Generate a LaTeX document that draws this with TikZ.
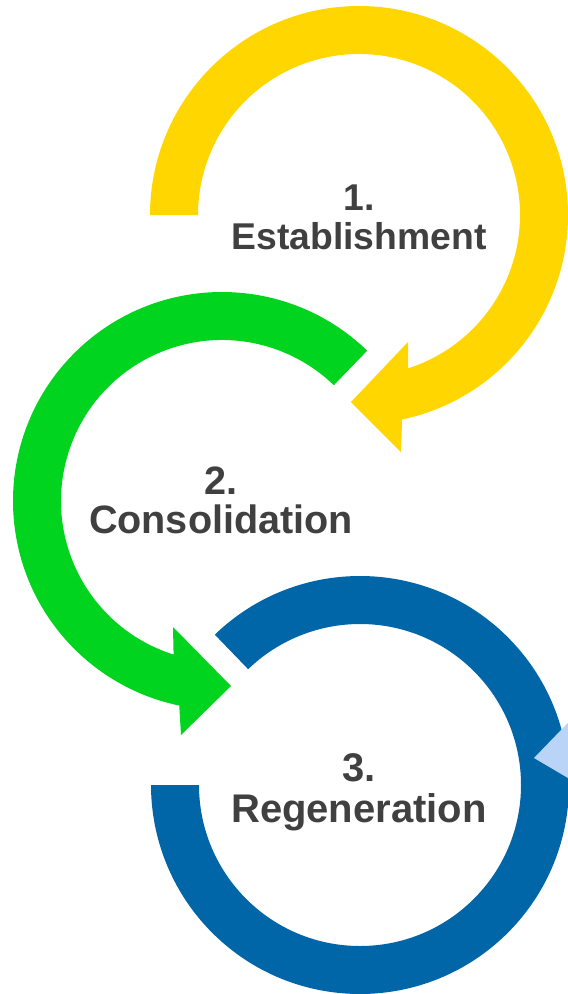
\documentclass[tikz,border=0pt]{standalone}
\usepackage{fontspec}
\setmainfont{Liberation Sans}
\usepackage{tikz}

\definecolor{ringyellow}{RGB}{255,214,0}
\definecolor{ringgreen}{RGB}{0,212,30}
\definecolor{ringblue}{RGB}{0,102,168}
\definecolor{ringlight}{RGB}{186,212,248}
\definecolor{labelgray}{RGB}{64,64,64}

\begin{document}
\begin{tikzpicture}[x=1pt, y=-1pt, stage label/.style={text=labelgray, font=\bfseries, anchor=base, inner sep=0pt}]

        \useasboundingbox (0,0) rectangle (568,994);
        \clip (0,0) rectangle (568,994);

        \coordinate (Y) at (359,215);
        \coordinate (G) at (222,501);
        \coordinate (B) at (360,785);

        % Rings with heads
        \fill[ringyellow] ([shift={(Y)}]180:209) arc[start angle=180, end angle=438.1, radius=209]
            -- (401,452) -- (351,402) -- (408,342)
            -- ([shift={(Y)}]432.2:161) arc[start angle=432.2, end angle=180, radius=161] -- cycle;

        \fill[ringgreen] ([shift={(G)}]-46:209) arc[start angle=-46, end angle=-258.2, radius=209]
            -- (181,735) -- (231,686) -- (173,627)
            -- ([shift={(G)}]-252.5:161) arc[start angle=-252.5, end angle=-46, radius=161] -- cycle;

        \fill[ringblue] ([shift={(B)}]-134:209) arc[start angle=-134, end angle=180, radius=209]
            -- ([shift={(B)}]180:161) arc[start angle=180, end angle=-134, radius=161] -- cycle;

        \fill[ringlight] (534,758) -- (590,700) -- (590,791) -- cycle;

        % Labels
        \node[stage label, font=\bfseries\fontsize{37.3}{37}\selectfont] (num1) at (359,210) {1.};
        \node[stage label, font=\bfseries\fontsize{37.3}{37}\selectfont] (name1) at (359,249) {Establishment};
        \node[stage label, font=\bfseries\fontsize{39.6}{39}\selectfont] (num2) at (221,494) {2.};
        \node[stage label, font=\bfseries\fontsize{39.6}{39}\selectfont] (name2) at (221,533) {Consolidation};
        \node[stage label, font=\bfseries\fontsize{40}{39}\selectfont] (num3) at (359,781) {3.};
        \node[stage label, font=\bfseries\fontsize{40}{39}\selectfont] (name3) at (359,822) {Regeneration};
    \end{tikzpicture}
\end{document}
